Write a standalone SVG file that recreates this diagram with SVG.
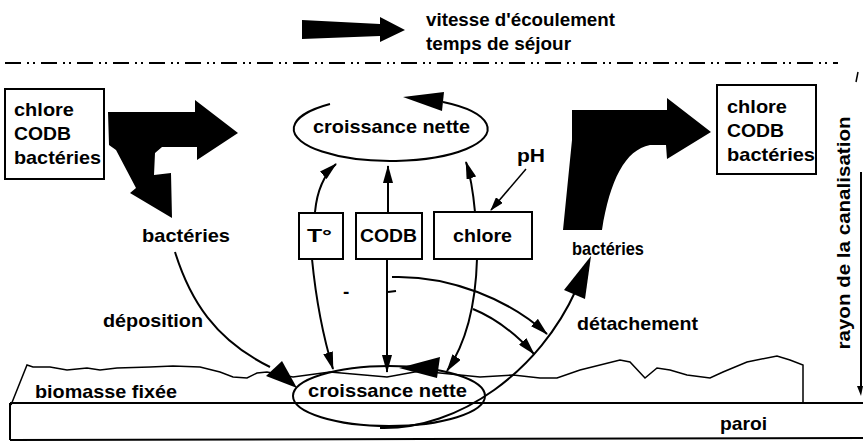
<svg xmlns="http://www.w3.org/2000/svg" width="863" height="446" viewBox="0 0 863 446">
<style>
text{font-family:"Liberation Sans",Arial,sans-serif;font-weight:bold;font-size:19px;fill:#000}
.box{fill:#fff;stroke:#000;stroke-width:2}
.ln{fill:none;stroke:#000;stroke-width:2}
.thin{fill:none;stroke:#000;stroke-width:1.5}
.blk{fill:#000;stroke:none}
</style>
<defs>
<marker id="ah" viewBox="0 0 18 10" refX="17" refY="5" markerWidth="18" markerHeight="10" markerUnits="userSpaceOnUse" orient="auto"><path d="M0,0 L18,5 L0,10 z" fill="#000"/></marker>
<marker id="ahs" viewBox="0 0 14 9" refX="13" refY="4.5" markerWidth="14" markerHeight="9" markerUnits="userSpaceOnUse" orient="auto"><path d="M0,0 L14,4.5 L0,9 z" fill="#000"/></marker>
</defs>
<rect width="863" height="446" fill="#fff"/>
<g id="legend">
<polygon class="blk" points="302,20 380,24 380,17 405,30 380,42 380,36 302,39"/>
<text x="426" y="26" textLength="189" lengthAdjust="spacingAndGlyphs">vitesse d'écoulement</text>
<text x="426" y="50" textLength="145" lengthAdjust="spacingAndGlyphs">temps de séjour</text>
</g>
<line id="axe" x1="5" y1="63" x2="838" y2="63" stroke="#000" stroke-width="2" stroke-dasharray="16 6 2 4 2 6"/>
<g id="entree">
<rect class="box" x="5" y="89" width="99" height="90"/>
<text x="14" y="116" textLength="60" lengthAdjust="spacingAndGlyphs">chlore</text>
<text x="14" y="140" textLength="57" lengthAdjust="spacingAndGlyphs">CODB</text>
<text x="14" y="164" textLength="87" lengthAdjust="spacingAndGlyphs">bactéries</text>
</g>
<g id="fleche-gauche">
<polygon class="blk" points="108,112 195,112 195,100 238,133 197,160 197,147 162,147 155,153 154,175 171,173 172,218 130,193 136,188 116,150 109,145"/>
</g>
<g id="sortie">
<rect class="box" x="717" y="85" width="99" height="89"/>
<text x="727" y="113" textLength="60" lengthAdjust="spacingAndGlyphs">chlore</text>
<text x="727" y="137" textLength="57" lengthAdjust="spacingAndGlyphs">CODB</text>
<text x="727" y="161" textLength="88" lengthAdjust="spacingAndGlyphs">bactéries</text>
</g>
<g id="fleche-droite">
<path class="blk" d="M572,110 L667,110 L667,98 L711,132 L667,159 L666,145 L650,145 C625,150 610,180 602,230 L563,230 L572,140 Z"/>
</g>
<g id="croissance-haut">
<path class="ln" d="M330,104 A97 32 0 1 0 443,102"/>
<polygon class="blk" points="403,97 444,92 442,111"/>
<text x="313" y="133" textLength="157" lengthAdjust="spacingAndGlyphs">croissance nette</text>
</g>
<g id="T">
<rect class="box" x="299" y="213" width="44" height="46"/>
<text x="307" y="242" textLength="25" lengthAdjust="spacingAndGlyphs">T°</text>
</g>
<g id="CODB">
<rect class="box" x="356" y="213" width="66" height="46"/>
<text x="360" y="242" textLength="57" lengthAdjust="spacingAndGlyphs">CODB</text>
</g>
<g id="chlore">
<rect class="box" x="434" y="212" width="98" height="47"/>
<text x="453" y="242" textLength="59" lengthAdjust="spacingAndGlyphs">chlore</text>
</g>
<g id="pH"><text x="517" y="162" textLength="28" lengthAdjust="spacingAndGlyphs">pH</text></g>
<g id="bacteries-g"><text x="142" y="242" textLength="88" lengthAdjust="spacingAndGlyphs">bactéries</text></g>
<g id="bacteries-d"><text x="572" y="255" font-size="17" textLength="72" lengthAdjust="spacingAndGlyphs">bactéries</text></g>
<g id="labels">
<text x="103" y="327" textLength="100" lengthAdjust="spacingAndGlyphs">déposition</text>
<text x="577" y="330" textLength="121" lengthAdjust="spacingAndGlyphs">détachement</text>
<text x="343" y="298">-</text>
</g>
<g id="paroi">
<line class="ln" x1="10" y1="403" x2="863" y2="403"/>
<line class="ln" x1="10" y1="440" x2="863" y2="438"/>
<line class="ln" x1="10" y1="403" x2="10" y2="440"/>
<text x="720" y="430" textLength="47" lengthAdjust="spacingAndGlyphs">paroi</text>
</g>
<g id="biomasse">
<polyline class="thin" points="11,405 27,365 33,367 50,367 67,370 87,368 100,370 117,368 150,367 173,366 200,367 220,372 233,377 247,378 257,373 267,372 293,377 330,372 387,377 420,371 450,374 480,377 513,375 540,378 557,378 580,370 620,360 630,362 645,378 657,368 670,370 687,375 710,378 723,372 747,362 777,356 790,360 803,365 803,403"/>
<text x="35" y="398" textLength="142" lengthAdjust="spacingAndGlyphs">biomasse fixée</text>
</g>
<g id="croissance-bas">
<ellipse class="ln" cx="389" cy="396" rx="96" ry="30"/>
<polygon class="blk" points="399,368 440,357 437,378"/>
<text x="308" y="397" textLength="159" lengthAdjust="spacingAndGlyphs">croissance nette</text>
</g>
<g id="rayon">
<text transform="translate(850,233) rotate(-90)" text-anchor="middle" textLength="233" lengthAdjust="spacingAndGlyphs">rayon de la canalisation</text>
<line class="ln" x1="861" y1="172" x2="861" y2="388"/>
<polygon class="blk" points="857,386 863,386 861,396"/>
<line class="thin" x1="858" y1="72" x2="856" y2="82"/>
</g>
<g id="connecteurs">
<path class="ln" d="M315,212 Q318,180 336,164" marker-end="url(#ah)"/>
<path class="ln" d="M388,212 L388,166" marker-end="url(#ah)"/>
<path class="ln" d="M475,212 Q472,180 466,162" marker-end="url(#ah)"/>
<path class="ln" d="M312,259 Q318,320 333,369" marker-end="url(#ah)"/>
<path class="ln" d="M387,259 L387,372" marker-end="url(#ah)"/>
<path class="ln" d="M477,259 Q475,330 447,371" marker-end="url(#ah)"/>
<path class="thin" d="M526,169 L491,210" marker-end="url(#ahs)"/>
<path class="ln" d="M392,277 C450,275 510,300 547,334" marker-end="url(#ah)"/>
<line class="ln" x1="388" y1="292" x2="396" y2="291"/>
<path class="ln" d="M473,309 Q505,322 534,354" marker-end="url(#ah)"/>
<path class="ln" stroke-width="2.5" d="M175,252 C190,300 215,340 270,367"/>
<polygon class="blk" points="266,376 282,361 297,388"/>
<path class="ln" stroke-width="2.5" d="M380,428 C460,430 540,370 576,290"/>
<polygon class="blk" points="591,256 585,299 564,290"/>
</g>
</svg>
